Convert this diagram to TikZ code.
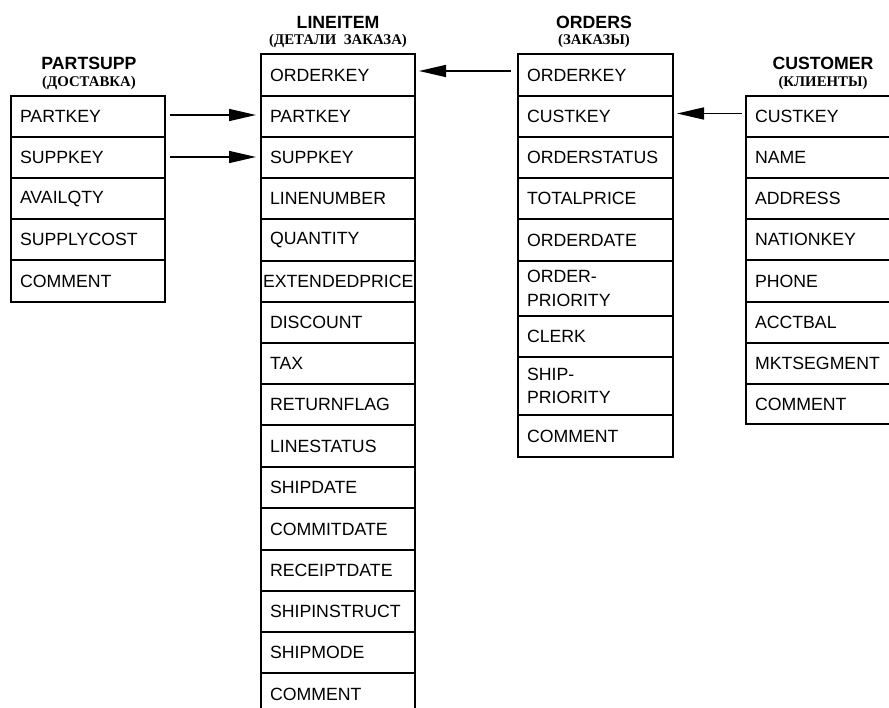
\documentclass[tikz,border=0pt]{standalone}
\usepackage{fontspec}
\setmainfont{Liberation Sans}
\newfontfamily\serfont{Liberation Serif}
\usetikzlibrary{arrows.meta}
\begin{document}
\begin{tikzpicture}[x=1pt,y=-1pt,
  cell/.style={draw, line width=1.7pt, rectangle, anchor=north west,
    inner xsep=9pt, inner ysep=0pt, outer sep=0pt, text width=136pt,
    align=left, font=\fontsize{17.7}{23.5}\selectfont},
  ttl/.style={anchor=base, inner sep=0pt, font=\fontsize{17.7}{20}\selectfont\bfseries},
  sub/.style={anchor=base, inner sep=0pt, font=\serfont\fontsize{14.8}{16}\selectfont\bfseries},
  arr/.style={line width=1.6pt, -{Triangle[length=27pt,width=12pt]}}]
\useasboundingbox (0,0) rectangle (889,708);
\clip (0,0) rectangle (889,708);

% titles
\node[ttl] (pst) at (89,69.5) {PARTSUPP};
\node[sub] (pss) at (89,86.5) {(ДОСТАВКА)};
\node[ttl] (lit) at (338,29) {LINEITEM};
\node[sub] (lis) at (338,45) {(ДЕТАЛИ\ \ ЗАКАЗА)};
\node[ttl] (ort) at (594,29) {ORDERS};
\node[sub] (ors) at (594,45) {(ЗАКАЗЫ)};
\node[ttl] (cut) at (823,69.5) {CUSTOMER};
\node[sub] (cus) at (823,86.5) {(КЛИЕНТЫ)};

% PARTSUPP
\foreach \t/\b/\n/\s in {96/137/ps1/PARTKEY, 137/178/ps2/SUPPKEY, 178/219/ps3/AVAILQTY,
  219/260/ps4/SUPPLYCOST, 260/302/ps5/COMMENT}
  \node[cell, minimum height={(\b-\t)*1pt}] (\n) at (11,\t) {\s};

% LINEITEM
\foreach \t/\b/\n/\s in {54/96/li1/ORDERKEY, 96/137/li2/PARTKEY, 137/178/li3/SUPPKEY,
  178/219/li4/LINENUMBER, 219/261/li5/QUANTITY,
  302/343/li7/DISCOUNT, 343/384/li8/TAX, 384/425/li9/RETURNFLAG,
  425/467/li10/LINESTATUS, 467/508/li11/SHIPDATE, 508/550/li12/COMMITDATE,
  550/591/li13/RECEIPTDATE, 591/632/li14/SHIPINSTRUCT, 632/673/li15/SHIPMODE,
  673/715/li16/COMMENT}
  \node[cell, minimum height={(\b-\t)*1pt}] (\n) at (261,\t) {\s};
\node[cell, minimum height=41pt, inner xsep=2pt, text width=150pt] (li6) at (261,261) {EXTENDEDPRICE};

% ORDERS
\foreach \t/\b/\n/\s in {54/96/or1/ORDERKEY, 96/137/or2/CUSTKEY, 137/178/or3/ORDERSTATUS,
  178/219/or4/TOTALPRICE, 219/261/or5/ORDERDATE, 261/316/or6/{ORDER-\\PRIORITY},
  316/357/or7/CLERK, 357/415/or8/{SHIP-\\PRIORITY}, 415/457/or9/COMMENT}
  \node[cell, text width=137pt, minimum height={(\b-\t)*1pt}] (\n) at (518,\t) {\s};

% CUSTOMER
\foreach \t/\b/\n/\s in {96/137/cu1/CUSTKEY, 137/178/cu2/NAME, 178/219/cu3/ADDRESS,
  219/260/cu4/NATIONKEY, 260/302/cu5/PHONE, 302/343/cu6/ACCTBAL,
  343/384/cu7/MKTSEGMENT, 384/424/cu8/COMMENT}
  \node[cell, minimum height={(\b-\t)*1pt}] (\n) at (746,\t) {\s};

% connectors
\draw[arr] ([xshift=5pt,yshift=1.5pt]ps1.east) -- ([xshift=-5pt,yshift=1.5pt]li2.west);
\draw[arr] ([xshift=5pt,yshift=0.5pt]ps2.east) -- ([xshift=-5pt,yshift=0.5pt]li3.west);
\draw[arr] ([xshift=-7pt,yshift=4pt]or1.west) -- ([xshift=4pt,yshift=4pt]li1.east);
\draw[arr] ([xshift=-4pt,yshift=3pt]cu1.west) -- ([xshift=4pt,yshift=3pt]or2.east);
\end{tikzpicture}
\end{document}
